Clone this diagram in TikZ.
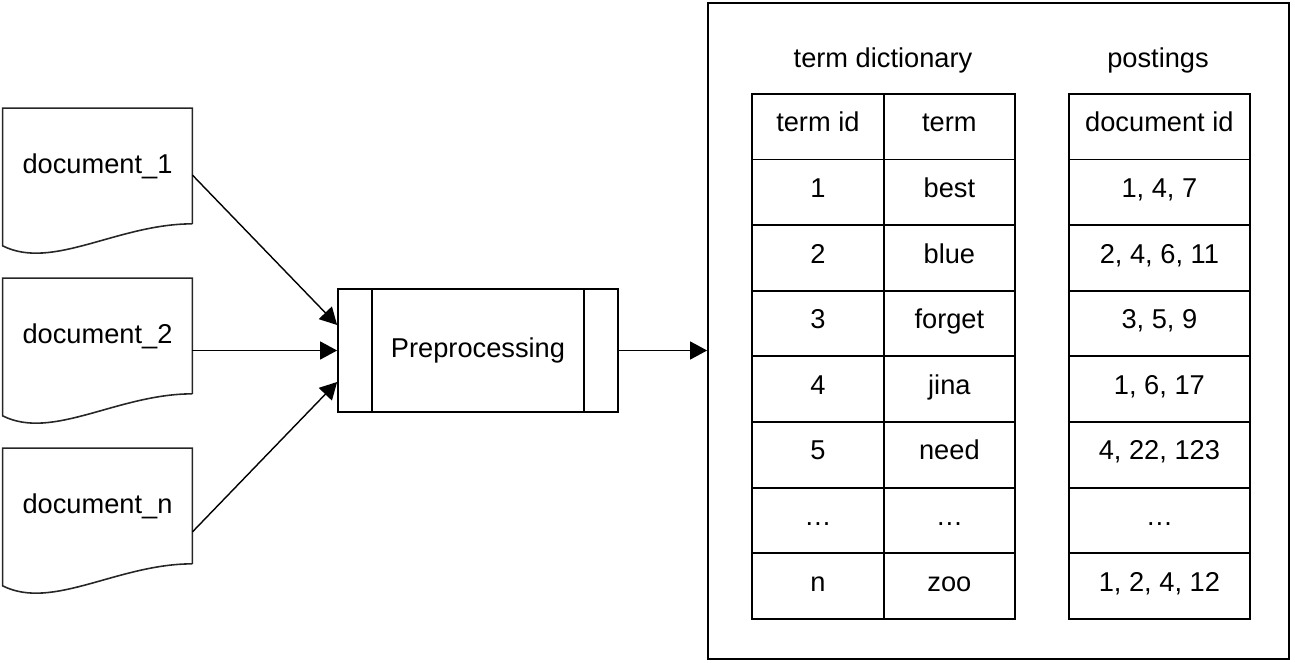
\documentclass[tikz,border=0pt]{standalone}
\usepackage{fontspec}
\setmainfont{Liberation Sans}
\usetikzlibrary{arrows.meta,positioning,calc}

\begin{document}
\begin{tikzpicture}[>={Triangle[length=0.34cm,width=0.36cm]}]
\tikzset{every node/.style={font=\fontsize{15.5}{18}\selectfont}}
	\tikzset{doctext/.style={rectangle, minimum width=3.78cm, minimum height=2.3cm, inner sep=0pt}}
	\tikzset{docline/.style={draw=black!85, line width=0.9pt}}
	\tikzset{process/.style={rectangle, draw, line width=1pt, minimum width=5.6cm, minimum height=2.46cm}}
	\tikzset{cell/.style={rectangle, draw, line width=1pt, minimum height=1.3125cm, inner sep=0pt, text height=1.6ex, text depth=0.5ex, anchor=north west}}
	\tikzset{flow/.style={->, line width=0.8pt}}

\useasboundingbox (0,0) rectangle (25.9,-13.26);

	\newcommand{\docnode}[3]{
\node[doctext] (#1) at (1.95,#2) {#3};
\draw[docline] (#1.south east) -- (#1.north east) -- (#1.north west) -- ([yshift=-0.44cm]#1.south west)
	.. controls +(1.0,-0.5) and +(-1.5,0) .. (#1.south east);
	}

\docnode{doc1}{-3.32}{document\_1}
\docnode{doc2}{-6.72}{document\_2}
\docnode{docn}{-10.12}{document\_n}

\node[process] (pre) at (9.56,-7.01) {Preprocessing};
\draw[line width=1pt] ([xshift=0.7cm]pre.north west) -- ([xshift=0.7cm]pre.south west);
\draw[line width=1pt] ([xshift=-0.7cm]pre.north east) -- ([xshift=-0.7cm]pre.south east);

\node[draw, line width=1pt, minimum width=11.62cm, minimum height=13.12cm, inner sep=0pt] (index) at (19.97,-6.62) {};

\draw[flow] ([yshift=-0.18cm] doc1.east) -- ([yshift=0.51cm] pre.west);
\draw[flow] (doc2.east |- pre.west) -- (pre.west);
\draw[flow] ([yshift=-0.52cm] docn.east) -- ([yshift=-0.63cm] pre.west);
\draw[flow] (pre.east) -- (pre.east -| index.west);

\node (dicttitle) at (17.66,-1.2) {term dictionary};
\node (posttitle) at (23.16,-1.2) {postings};

\foreach \tid/\term/\docs [count=\r from 0] in {term id/term/document id, 1/best/{1, 4, 7}, 2/blue/{2, 4, 6, 11}, 3/forget/{3, 5, 9}, 4/jina/{1, 6, 17}, 5/need/{4, 22, 123}, \ldots/\ldots/\ldots, n/zoo/{1, 2, 4, 12}} {
\node[cell, minimum width=2.64cm] (id\r) at (15.02,-1.86-1.3125*\r) {\tid};
\node[cell, minimum width=2.62cm] (term\r) at (17.66,-1.86-1.3125*\r) {\term};
\node[cell, minimum width=3.62cm] (docs\r) at (21.36,-1.86-1.3125*\r) {\docs};
}
\end{tikzpicture}
\end{document}
